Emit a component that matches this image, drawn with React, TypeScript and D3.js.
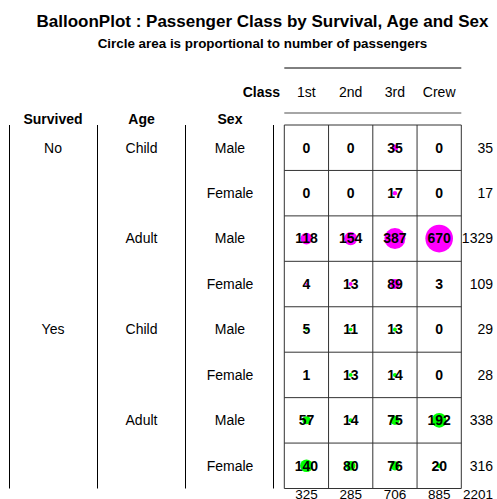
import * as d3 from "d3";

// Titanic passengers by class, split by survival / age / sex
const classes = ["1st", "2nd", "3rd", "Crew"];
const survived = ["No", "No", "No", "No", "Yes", "Yes", "Yes", "Yes"];
const ages = ["Child", "Child", "Adult", "Adult", "Child", "Child", "Adult", "Adult"];
const sexes = ["Male", "Female", "Male", "Female", "Male", "Female", "Male", "Female"];
const counts = [
  [0, 0, 35, 0],
  [0, 0, 17, 0],
  [118, 154, 387, 670],
  [4, 13, 89, 3],
  [5, 11, 13, 0],
  [1, 13, 14, 0],
  [57, 14, 75, 192],
  [140, 80, 76, 20],
];
const survColor: Record<string, string> = { No: "#ff00ff", Yes: "#00ff00" };

const W = 497, H = 499;
const font = "'Liberation Sans', Arial, Helvetica, sans-serif";

export default function App() {
  const rows = d3.range(counts.length);
  const x = d3.scaleBand().domain(classes).range([284.3, 461.3]);
  const y = d3.scaleBand<number>().domain(rows).range([125, 488.5]);
  const maxV = d3.max(counts.flat()) as number;
  const r = d3.scaleSqrt().domain([0, maxV]).range([0, 13.8]);
  const rowTot = counts.map(row => d3.sum(row));
  const colTot = classes.map((_, j) => d3.sum(counts, row => row[j]));
  const total = d3.sum(rowTot);

  const cx = (c: string) => (x(c) as number) + x.bandwidth() / 2;
  const cy = (i: number) => (y(i) as number) + y.bandwidth() / 2;
  const [x0, x1] = x.range();
  const [y0, y1] = y.range();

  // left label columns
  const labelCols = [
    { title: "Survived", cx: 53, vals: survived },
    { title: "Age", cx: 141.5, vals: ages },
    { title: "Sex", cx: 230, vals: sexes },
  ];
  const sepX = [9.5, 97.5, 185.5, 273.5];

  return (
    <>
      <style>{`body{margin:0}`}</style>
      <svg width={W} height={H} style={{ display: "block", fontFamily: font }}>
        <rect width={W} height={H} fill="#fff" />
        <text x={262.5} y={27} textAnchor="middle" fontWeight="bold" fontSize={17}>
          BalloonPlot : Passenger Class by Survival, Age and Sex
        </text>
        <text x={262.5} y={47.5} textAnchor="middle" fontWeight="bold" fontSize={13.4}>
          Circle area is proportional to number of passengers
        </text>

        {/* column header */}
        <line x1={x0} x2={x1} y1={68} y2={68} stroke="#000" />
        <text x={280} y={97} textAnchor="end" fontWeight="bold" fontSize={14}>Class</text>
        {classes.map(c => (
          <text key={c} x={cx(c)} y={97} textAnchor="middle" fontSize={14}>{c}</text>
        ))}
        <line x1={x0} x2={x1} y1={113} y2={113} stroke="#888" strokeWidth={1.5} />

        {/* row headers */}
        {labelCols.map(col => (
          <g key={col.title}>
            <text x={col.cx} y={124} textAnchor="middle" fontWeight="bold" fontSize={14}>{col.title}</text>
            {col.vals.map((v, i) =>
              i > 0 && col.vals[i - 1] === v && (col.title === "Sex" ? false : survived[i] === survived[i - 1]) ? null : (
                <text key={i} x={col.cx} y={cy(i)} dy="0.35em" textAnchor="middle" fontSize={14}>{v}</text>
              )
            )}
          </g>
        ))}
        {sepX.map(sx => (
          <line key={sx} x1={sx} x2={sx} y1={125} y2={488.5} stroke="#000" />
        ))}

        {/* balloons */}
        {counts.map((row, i) =>
          row.map((v, j) => (
            <circle key={`c${i}-${j}`} cx={cx(classes[j])} cy={cy(i)} r={r(v)} fill={survColor[survived[i]]} />
          ))
        )}

        {/* grid */}
        {rows.concat([counts.length]).map(i => {
          const yy = i === counts.length ? y1 : (y(i) as number);
          return <line key={`h${i}`} x1={x0} x2={x1} y1={yy} y2={yy} stroke="#333" />;
        })}
        {classes.concat(["end"]).map((c, j) => {
          const xx = j === classes.length ? x1 : (x(c) as number);
          return <line key={`v${j}`} x1={xx} x2={xx} y1={y0} y2={y1} stroke="#333" />;
        })}

        {/* cell values */}
        {counts.map((row, i) =>
          row.map((v, j) => (
            <text key={`t${i}-${j}`} x={cx(classes[j])} y={cy(i)} dy="0.35em" textAnchor="middle" fontWeight="bold" fontSize={14}>
              {v}
            </text>
          ))
        )}

        {/* margins */}
        {rowTot.map((t, i) => (
          <text key={`rt${i}`} x={493} y={cy(i)} dy="0.35em" textAnchor="end" fontSize={14}>{t}</text>
        ))}
        {colTot.map((t, j) => (
          <text key={`ct${j}`} x={cx(classes[j])} y={498.5} textAnchor="middle" fontSize={13.5}>{t}</text>
        ))}
        <text x={493} y={498.5} textAnchor="end" fontSize={13.5}>{total}</text>
      </svg>
    </>
  );
}
